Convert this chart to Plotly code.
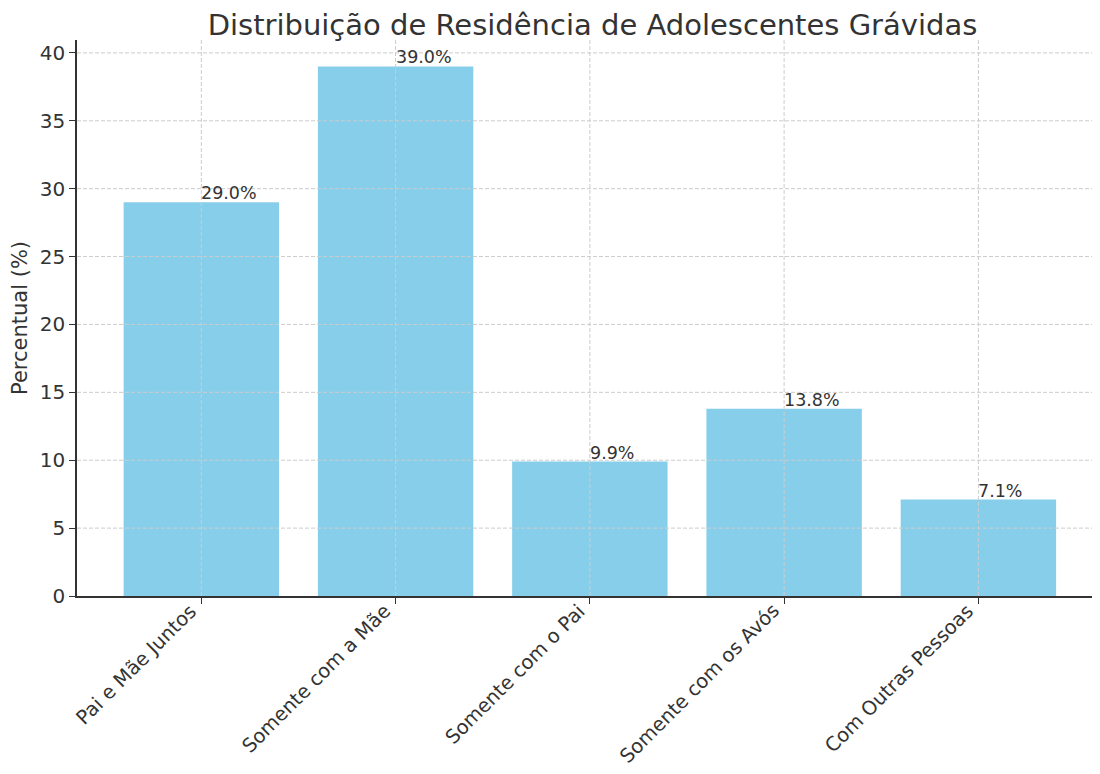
import plotly.graph_objects as go

categories = ["Pai e Mãe Juntos", "Somente com a Mãe", "Somente com o Pai",
              "Somente com os Avós", "Com Outras Pessoas"]
percent = [29.0, 39.0, 9.9, 13.8, 7.1]
y_ticks = [0, 5, 10, 15, 20, 25, 30, 35, 40]

FONT = "DejaVu Sans"
GRID = "#cccccc"
TXT = "#333333"

fig = go.Figure()
fig.add_trace(go.Bar(x=categories, y=percent, width=0.8,
                     marker_color="#87CEEB", marker_line_width=0))

# value labels, left aligned at bar centre like matplotlib's plt.text
for c, v in zip(categories, percent):
    fig.add_annotation(x=c, y=v, text=f"{v:.1f}%", showarrow=False,
                       xanchor="left", yanchor="bottom", xshift=-2, yshift=-3,
                       font=dict(family=FONT, size=17.5, color=TXT))

# rotated category labels, right/top anchored like matplotlib ha="right"
for c in categories:
    fig.add_annotation(x=c, y=0, yref="y", text=c, showarrow=False, textangle=-45,
                       xanchor="right", yanchor="top", xshift=1, yshift=-2,
                       borderpad=0, font=dict(family=FONT, size=19.5, color=TXT))

# dashed grid drawn over the bars
for c in categories:
    fig.add_shape(type="line", xref="x", yref="paper", x0=c, x1=c, y0=0, y1=1,
                  line=dict(color=GRID, width=1, dash="4px,2px"), layer="above")
for t in y_ticks[1:]:
    fig.add_shape(type="line", xref="paper", yref="y", x0=0, x1=1, y0=t, y1=t,
                  line=dict(color=GRID, width=1, dash="4px,2px"), layer="above")

fig.update_layout(
    width=1100, height=774,
    margin=dict(l=69, r=8, t=32, b=186, autoexpand=False),
    plot_bgcolor="white", paper_bgcolor="white",
    showlegend=False,
    title=dict(text="Distribuição de Residência de Adolescentes Grávidas",
               x=(69 + 1100) / 2 / 1100, xanchor="center", y=0.978, yanchor="middle",
               font=dict(family=FONT, size=29, color=TXT)),
    font=dict(family=FONT, color=TXT),
)
fig.update_xaxes(range=[-0.64, 4.626], showgrid=False, showline=True, automargin=False,
                 linecolor=TXT, linewidth=1.6, ticks="outside", ticklen=6,
                 tickcolor=TXT, showticklabels=False)
fig.update_yaxes(range=[0, 40.95], tickvals=y_ticks, showgrid=False, zeroline=False,
                 showline=True, linecolor=TXT, linewidth=1.6, automargin=False,
                 ticks="outside", ticklen=6, tickcolor=TXT,
                 tickfont=dict(family=FONT, size=20, color=TXT),
                 title=dict(text="Percentual (%)", standoff=6,
                            font=dict(family=FONT, size=21, color=TXT)))

fig.write_html("out.html")
